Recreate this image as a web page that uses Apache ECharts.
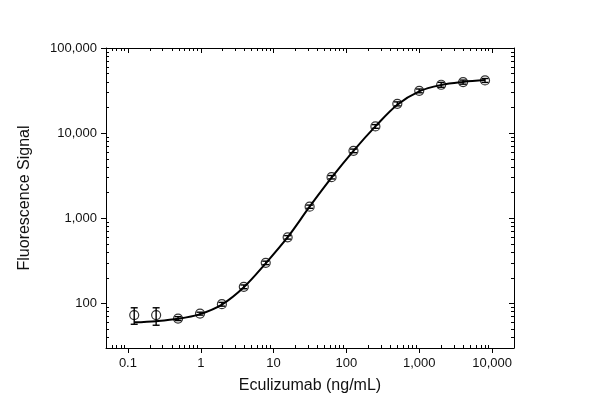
<!DOCTYPE html>
<html>
<head>
<meta charset="utf-8">
<title>Eculizumab</title>
<script src="https://cdn.jsdelivr.net/npm/echarts@6/dist/echarts.min.js"></script>
<style>
	html, body { margin: 0; padding: 0; background: #fff; }
	#main { width: 600px; height: 419px; }
</style>
</head>
<body>
<div id="main"></div>
<script>
// 2-fold dilution series (ng/mL)
var conc = [0.122, 0.244, 0.488, 0.977, 1.95, 3.9, 7.8, 15.6, 31.25, 62.5, 125, 250, 500, 1000, 2000, 4000, 8000];
// measured mean signal
var signal = [73, 73, 66.5, 76, 98, 157, 300, 598, 1370, 3040, 6200, 12000, 22100, 31400, 37000, 39800, 41600];
// error bar low / high
var errLow = [57, 55.5, 63, 73, 93, 149, 286, 570, 1310, 2900, 5900, 11400, 20900, 29800, 34600, 37600, 39400];
var errHigh = [89, 89, 70, 79, 103, 165, 314, 626, 1430, 3180, 6500, 12600, 23300, 33000, 39500, 42000, 43800];
// fitted curve
var fitSignal = [60, 62, 66, 75, 97, 155, 296, 600, 1370, 3000, 6200, 12000, 21600, 31000, 36800, 40000, 42000];

var xMajor = [0.1, 1, 10, 100, 1000, 10000];
var yMajor = [100, 1000, 10000, 100000];
var xRange = [0.05, 20000];
var yRange = [30, 100000];

// tiny extend helper
function extend() {
	var out = {};
	for (var i = 0; i < arguments.length; i++) {
		var o = arguments[i];
		for (var k in o) out[k] = o[k];
	}
	return out;
}

function minorTicks(lo, hi) {
	var out = [];
	var d = Math.pow(10, Math.floor(Math.log10(lo)));
	while (d < hi) {
		for (var k = 2; k < 10; k++) {
			var v = Number((d * k).toPrecision(6));
			if (v > lo && v < hi) out.push(v);
		}
		d = d * 10;
	}
	return out;
}

function fmt(v) {
	v = Number(Number(v).toPrecision(6));
	if (v >= 1000) return v.toString().replace(/\B(?=(\d{3})+(?!\d))/g, ',');
	return String(v);
}

var labelStyle = { color: '#111', fontSize: 13, fontFamily: 'Liberation Sans, Arial, sans-serif' };
var nameStyle = { color: '#111', fontSize: 16, fontFamily: 'Liberation Sans, Arial, sans-serif' };
var lineStyle = { color: '#000', width: 1 };

function makeAxes(isX) {
	var range = isX ? xRange : yRange;
	var major = isX ? xMajor : yMajor;
	var minor = minorTicks(range[0], range[1]);
	var base = { type: 'log', logBase: 10, min: range[0], max: range[1], splitLine: { show: false } };
	var pos = isX ? ['bottom', 'top'] : ['left', 'right'];
	var axes = [];
	// main axis with labels, major ticks outside
	axes.push(extend(base, {
		position: pos[0],
		axisLine: { show: true, onZero: false, lineStyle: lineStyle },
		axisTick: { show: true, inside: false, length: 5, lineStyle: lineStyle, customValues: major },
		axisLabel: extend({ show: true, margin: 9, formatter: fmt, customValues: major }, labelStyle),
		name: isX ? 'Eculizumab (ng/mL)' : 'Fluorescence Signal',
		nameLocation: 'middle',
		nameGap: isX ? 30 : 73,
		nameTextStyle: nameStyle
	}));
	// minor ticks on the same side, inside
	axes.push(extend(base, {
		position: pos[0],
		axisLine: { show: false, onZero: false },
		axisTick: { show: true, inside: true, length: 3, lineStyle: lineStyle, customValues: minor },
		axisLabel: { show: false }
	}));
	// mirror side, all ticks inside
	axes.push(extend(base, {
		position: pos[1],
		axisLine: { show: true, onZero: false, lineStyle: lineStyle },
		axisTick: { show: true, inside: true, length: 5, lineStyle: lineStyle, customValues: major },
		axisLabel: { show: false }
	}));
	axes.push(extend(base, {
		position: pos[1],
		axisLine: { show: false, onZero: false },
		axisTick: { show: true, inside: true, length: 3, lineStyle: lineStyle, customValues: minor },
		axisLabel: { show: false }
	}));
	return axes;
}

var points = [], fit = [], errs = [];
for (var i = 0; i < conc.length; i++) {
	points.push([conc[i], signal[i]]);
	fit.push([conc[i], fitSignal[i]]);
	errs.push([conc[i], errLow[i], errHigh[i]]);
}

var myChart = echarts.init(document.getElementById('main'), null, { renderer: 'canvas' });

var option = {
	animation: false,
	backgroundColor: '#fff',
	grid: { left: 106, right: 86, top: 48, bottom: 71, containLabel: false },
	xAxis: makeAxes(true),
	yAxis: makeAxes(false),
	series: [
		{
			name: 'fit',
			type: 'line',
			data: fit,
			smooth: 0.35,
			showSymbol: false,
			lineStyle: { color: '#000', width: 2 },
			z: 3
		},
		{
			name: 'error',
			type: 'custom',
			data: errs,
			renderItem: function (params, api) {
				var lo = api.coord([api.value(0), api.value(1)]);
				var hi = api.coord([api.value(0), api.value(2)]);
				var cap = 3.5;
				var st = { stroke: '#000', lineWidth: 1.4 };
				return {
					type: 'group',
					children: [
						{ type: 'line', shape: { x1: lo[0], y1: lo[1], x2: hi[0], y2: hi[1] }, style: st },
						{ type: 'line', shape: { x1: lo[0] - cap, y1: lo[1], x2: lo[0] + cap, y2: lo[1] }, style: st },
						{ type: 'line', shape: { x1: hi[0] - cap, y1: hi[1], x2: hi[0] + cap, y2: hi[1] }, style: st }
					]
				};
			},
			encode: { x: 0, y: [1, 2] },
			z: 4
		},
		{
			name: 'signal',
			type: 'scatter',
			data: points,
			symbol: 'circle',
			symbolSize: 9,
			itemStyle: { color: 'rgba(255,255,255,0)', borderColor: '#000', borderWidth: 1.2 },
			z: 5
		}
	]
};

myChart.setOption(option);
</script>
</body>
</html>
